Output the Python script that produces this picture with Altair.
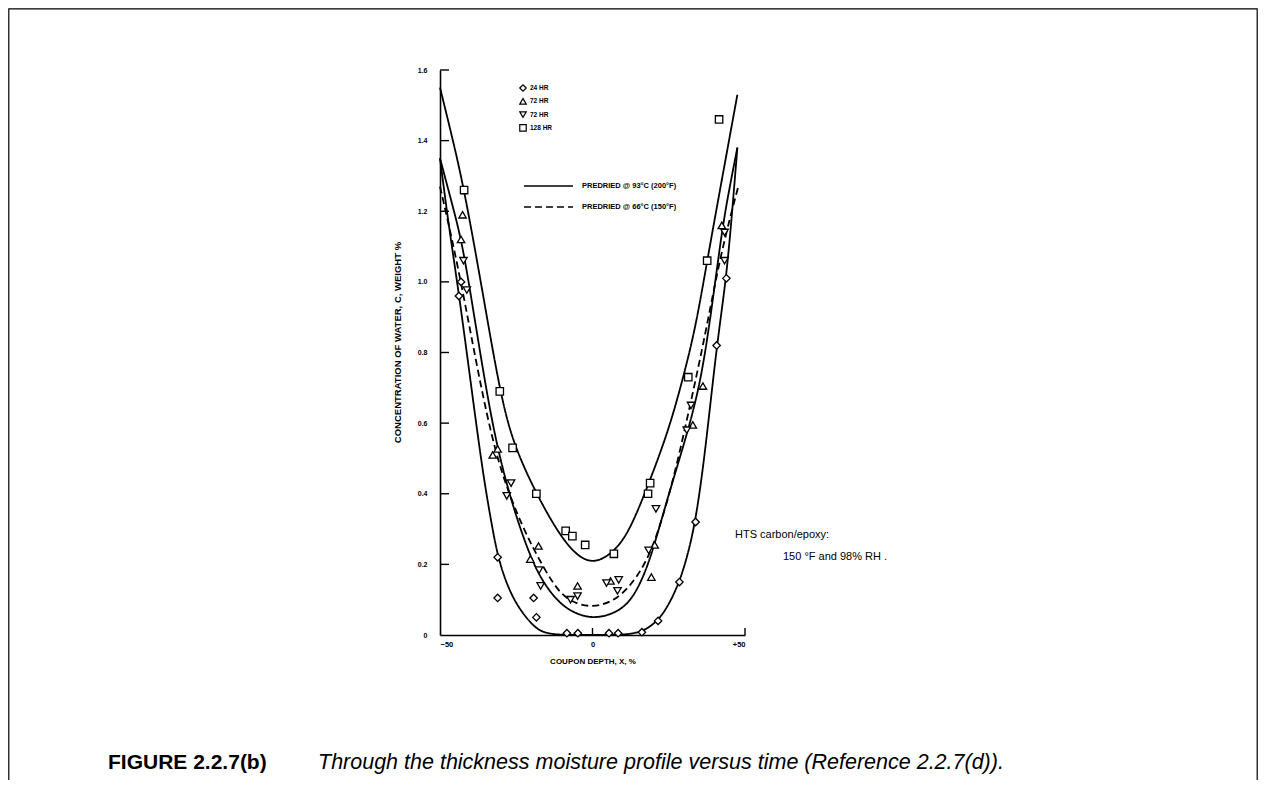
import altair as alt
import pandas as pd

# ---------------- data ----------------
series_ids = ["24 HR", "72 HR (a)", "72 HR (b)", "128 HR"]
series_labels = ["24 HR", "72 HR", "72 HR", "128 HR"]
series_shapes = ["diamond", "triangle-up", "triangle-down", "square"]

hr24_x = [-43.1, -43.8, -31.1, -31.1, -19.3, -18.4, -8.4, -4.8, 5.4, 8.4, 16.2, 21.5, 28.5, 33.8, 40.7, 43.9]
hr24_y = [1.00, 0.96, 0.22, 0.105, 0.105, 0.05, 0.005, 0.005, 0.005, 0.005, 0.008, 0.04, 0.15, 0.32, 0.82, 1.01]

hr72a_x = [-42.6, -43.1, -31.1, -32.7, -17.7, -20.4, -4.9, 5.9, 19.3, 20.4, 32.9, 36.2, 42.4]
hr72a_y = [1.19, 1.12, 0.527, 0.51, 0.252, 0.215, 0.139, 0.153, 0.164, 0.255, 0.595, 0.705, 1.16]

hr72b_x = [-41.2, -42.3, -26.7, -28.1, -17.5, -17.0, -7.2, -4.9, 4.6, 8.6, 8.2, 18.4, 20.8, 32.3, 30.9, 43.3, 43.3]
hr72b_y = [0.977, 1.06, 0.43, 0.394, 0.184, 0.139, 0.10, 0.11, 0.147, 0.156, 0.125, 0.24, 0.357, 0.65, 0.58, 1.14, 1.06]

hr128_x = [-42.1, -30.4, -26.2, -18.4, -8.8, -6.6, -2.4, 7.0, 18.2, 18.9, 31.4, 37.6, 41.5]
hr128_y = [1.26, 0.69, 0.53, 0.40, 0.295, 0.28, 0.255, 0.23, 0.40, 0.43, 0.73, 1.06, 1.46]

# predicted profiles
curveA_x = [-50, -46, -42, -36, -30.4, -26, -18.4, -12, -6, 0, 6.5, 12, 18.5, 25, 30.1, 34, 37.6, 42, 47.5]
curveA_y = [1.55, 1.41, 1.26, 0.97, 0.69, 0.54, 0.40, 0.30, 0.23, 0.20, 0.23, 0.29, 0.43, 0.58, 0.74, 0.88, 1.06, 1.27, 1.53]

curveB_x = [-50, -46, -43, -40, -35, -31, -26, -21, -17, -12, -7, 0, 7, 12, 16, 19.5, 24, 30, 35.5, 39.5, 42.5, 45, 47.5]
curveB_y = [1.35, 1.22, 1.12, 0.97, 0.70, 0.52, 0.36, 0.235, 0.16, 0.10, 0.065, 0.045, 0.06, 0.09, 0.15, 0.23, 0.37, 0.54, 0.71, 0.95, 1.15, 1.27, 1.38]

curveC_x = [-50, -47, -44, -40, -36, -33, -31, -28, -24.5, -20, -16, -8, 0, 8, 16, 21.5, 25, 28.5, 31, 33.8, 37, 40.7, 43.9, 46, 47.5]
curveC_y = [1.35, 1.15, 0.98, 0.72, 0.46, 0.31, 0.22, 0.14, 0.08, 0.03, 0.003, 0, 0, 0, 0.005, 0.04, 0.085, 0.15, 0.22, 0.32, 0.52, 0.82, 1.01, 1.22, 1.38]

curveD_x = [-50, -46, -42, -37, -32, -27, -22, -18.5, -12.7, -7.8, 0, 8.3, 14.8, 20.1, 26, 31, 37, 42, 47.8]
curveD_y = [1.27, 1.12, 0.95, 0.72, 0.52, 0.39, 0.29, 0.23, 0.14, 0.095, 0.075, 0.10, 0.164, 0.25, 0.42, 0.61, 0.85, 1.08, 1.27]

cond_solid = "PREDRIED @ 93°C (200°F)"
cond_dash = "PREDRIED @ 66°C (150°F)"

x_ticks = [-50, 0, 50]
y_ticks = [0, 0.2, 0.4, 0.6, 0.8, 1.0, 1.2, 1.4, 1.6]
inner_y_ticks = [0.2, 0.4, 0.6, 0.8, 1.0, 1.2, 1.4, 1.6]
inner_x_ticks = [0, 50]

# ---------------- tables ----------------
pts = pd.concat([
    pd.DataFrame({"x": hr24_x, "y": hr24_y, "series": series_ids[0]}),
    pd.DataFrame({"x": hr72a_x, "y": hr72a_y, "series": series_ids[1]}),
    pd.DataFrame({"x": hr72b_x, "y": hr72b_y, "series": series_ids[2]}),
    pd.DataFrame({"x": hr128_x, "y": hr128_y, "series": series_ids[3]}),
], ignore_index=True)

curves = pd.concat([
    pd.DataFrame({"x": curveA_x, "y": curveA_y, "curve": "A", "cond": cond_solid}),
    pd.DataFrame({"x": curveB_x, "y": curveB_y, "curve": "B", "cond": cond_solid}),
    pd.DataFrame({"x": curveC_x, "y": curveC_y, "curve": "C", "cond": cond_solid}),
    pd.DataFrame({"x": curveD_x, "y": curveD_y, "curve": "D", "cond": cond_dash}),
], ignore_index=True)

W, H = 305, 565
PAD_L, PAD_T, PAD_R, PAD_B = 432, 62, 513, 145

xscale = alt.Scale(domain=[-50, 50], nice=False, zero=False)
yscale = alt.Scale(domain=[0, 1.6], nice=False, zero=False)

xaxis = alt.Axis(values=x_ticks, ticks=False, tickSize=0, grid=False, domainColor="black", domainWidth=1.6,
                 labelFont="Liberation Sans", labelFontWeight="bold", labelFontSize=7.5, labelColor="black",
                 labelPadding=5, labelExpr="datum.value > 0 ? '+' + datum.label : datum.label",
                 title="COUPON DEPTH, X, %", titleFont="Liberation Sans", titleFontWeight="bold",
                 titleFontSize=8, titleColor="black", titlePadding=10)
yaxis = alt.Axis(values=y_ticks, ticks=False, tickSize=0, grid=False, domainColor="black", domainWidth=1.6,
                 labelFont="Liberation Sans", labelFontWeight="bold", labelFontSize=7, labelColor="black",
                 labelPadding=13, format=".1f", labelExpr="datum.value == 0 ? '0' : datum.label",
                 title="CONCENTRATION OF WATER, C, WEIGHT %", titleFont="Liberation Sans",
                 titleFontWeight="bold", titleFontSize=9.5, titleColor="black", titleX=-38, titleY=272)


def X(f):
    return alt.X(f, type="quantitative", scale=xscale, axis=xaxis)


def Y(f):
    return alt.Y(f, type="quantitative", scale=yscale, axis=yaxis)


one = pd.DataFrame({"k": [0]})

border = alt.Chart(one).mark_rect(fill=None, stroke="black", strokeWidth=1.2, clip=False).encode(
    x=alt.value(-PAD_L + 0.8), x2=alt.value(W + PAD_R - 0.8),
    y=alt.value(-PAD_T + 0.8), y2=alt.value(H + PAD_B + 40))

ytick_rules = alt.Chart(pd.DataFrame({"v": inner_y_ticks})).mark_rule(color="black", strokeWidth=1.4).encode(
    y=Y("v"), x=alt.value(0), x2=alt.value(9))

xtick_rules = alt.Chart(pd.DataFrame({"v": inner_x_ticks})).mark_rule(color="black", strokeWidth=1.4).encode(
    x=X("v"), y=alt.value(H), y2=alt.value(H - 7))

lines = alt.Chart(curves).mark_line(color="black", strokeWidth=1.8, interpolate="basis").encode(
    x=X("x"), y=Y("y"), detail="curve:N",
    strokeDash=alt.StrokeDash("cond:N", scale=alt.Scale(domain=[cond_solid, cond_dash], range=[[1, 0], [7, 4]]),
                              legend=None))

points = alt.Chart(pts).mark_point(filled=True, fill="white", stroke="black", strokeWidth=1.3, size=55,
                                   opacity=1).encode(
    x=X("x"), y=Y("y"),
    shape=alt.Shape("series:N", scale=alt.Scale(domain=series_ids, range=series_shapes), legend=None))

# legend for the four exposure times (manual, two rows share the label "72 HR")
legend_layers = []
for i, (shp, lab) in enumerate(zip(series_shapes, series_labels)):
    yy = 18 + 13.3 * i
    legend_layers.append(alt.Chart(one).mark_point(shape=shp, filled=True, fill="white", stroke="black",
                                                   strokeWidth=1.2, size=42, opacity=1).encode(
        x=alt.value(83), y=alt.value(yy)))
    legend_layers.append(alt.Chart(one).mark_text(text=lab, align="left", baseline="middle",
                                                  font="Liberation Sans", fontWeight="bold", fontSize=6.5,
                                                  color="black").encode(x=alt.value(90), y=alt.value(yy)))

# legend for the two predicted lines
leg_lines = alt.Chart(one).mark_rule(color="black", strokeWidth=1.6).encode(
    x=alt.value(84), x2=alt.value(133), y=alt.value(116), y2=alt.value(116))
leg_dash = alt.Chart(one).mark_rule(color="black", strokeWidth=1.6, strokeDash=[7, 4]).encode(
    x=alt.value(84), x2=alt.value(133), y=alt.value(137), y2=alt.value(137))
leg_txt1 = alt.Chart(one).mark_text(text=cond_solid, align="left", baseline="middle", font="Liberation Sans",
                                     fontWeight="bold", fontSize=7.5, color="black").encode(
    x=alt.value(142), y=alt.value(116))
leg_txt2 = alt.Chart(one).mark_text(text=cond_dash, align="left", baseline="middle", font="Liberation Sans",
                                     fontWeight="bold", fontSize=7.5, color="black").encode(
    x=alt.value(142), y=alt.value(137))

ann1 = alt.Chart(one).mark_text(text="HTS carbon/epoxy:", align="left", baseline="middle",
                                font="Liberation Sans", fontSize=11, color="black").encode(
    x=alt.value(295), y=alt.value(465))
ann2 = alt.Chart(one).mark_text(text="150 °F and 98% RH .", align="left", baseline="middle",
                                font="Liberation Sans", fontSize=11, color="black").encode(
    x=alt.value(343), y=alt.value(487))

cap1 = alt.Chart(one).mark_text(text="FIGURE 2.2.7(b)", align="left", baseline="middle",
                                font="Liberation Sans", fontWeight="bold", fontSize=21, color="black").encode(
    x=alt.value(108 - 440), y=alt.value(693))
cap2 = alt.Chart(one).mark_text(text="Through the thickness moisture profile versus time (Reference 2.2.7(d)).",
                                align="left", baseline="middle", font="Liberation Sans", fontStyle="italic",
                                fontSize=21.5, color="black").encode(
    x=alt.value(318 - 440), y=alt.value(693))

chart = alt.layer(
    border, lines, ytick_rules, xtick_rules, points,
    *legend_layers, leg_lines, leg_dash, leg_txt1, leg_txt2, ann1, ann2, cap1, cap2
).properties(
    width=W, height=H,
    autosize=alt.AutoSizeParams(type="none"),
    padding={"left": PAD_L, "top": PAD_T, "right": PAD_R, "bottom": PAD_B},
    background="white"
).configure_view(stroke=None)

chart.save("out.html", embed_options={"renderer": "svg", "actions": False})
